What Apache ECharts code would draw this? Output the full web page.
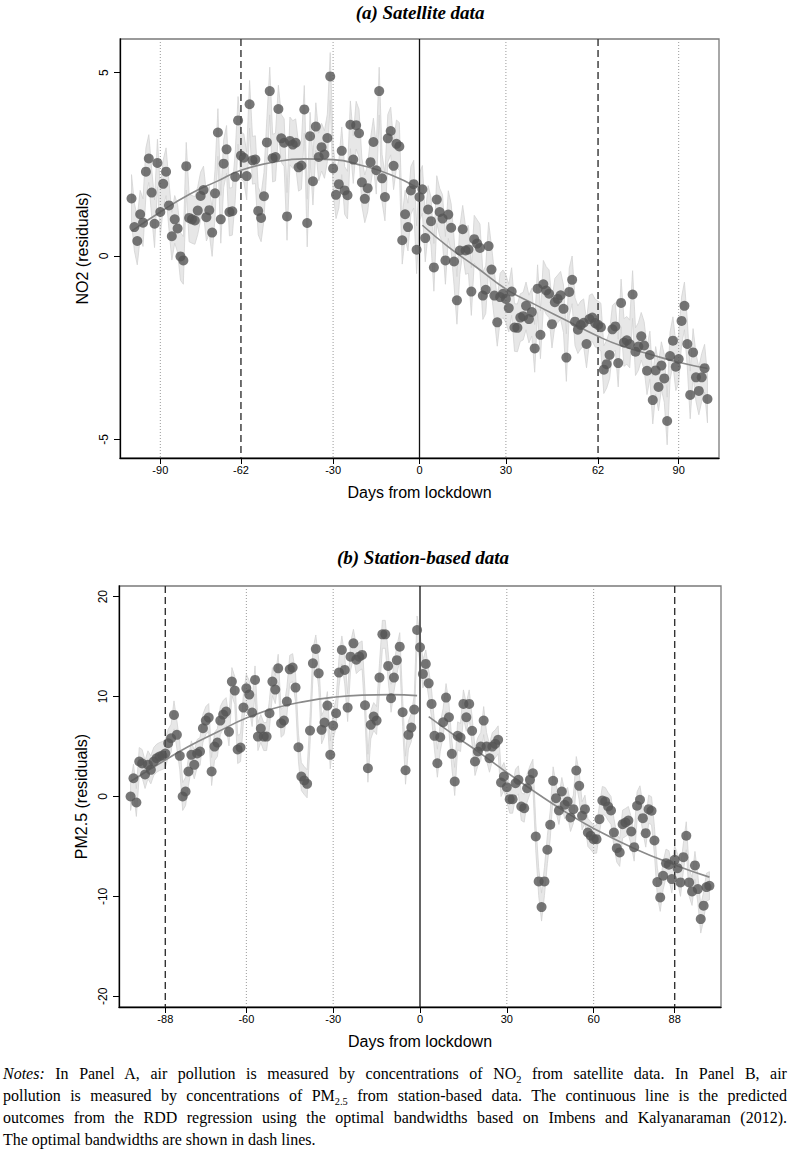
<!DOCTYPE html>
<html>
<head>
<meta charset="utf-8">
<script src="https://cdn.jsdelivr.net/npm/echarts@6/dist/echarts.min.js"></script>
<style>
html,body{margin:0;padding:0;background:#fff;width:790px;height:1162px;overflow:hidden;}
#chart{position:absolute;left:0;top:0;width:790px;height:1162px;}
#notes{position:absolute;left:3px;top:1063px;width:834px;transform:scaleX(0.94);transform-origin:0 0;font-family:"Liberation Serif","Times New Roman",serif;font-size:17px;line-height:22px;color:#000;}
#notes .j{text-align:justify;text-align-last:justify;}
#notes sub{font-size:11px;line-height:0;}
</style>
</head>
<body>
<div id="chart"></div>
<div id="notes">
<div class="j"><i>Notes:</i> In Panel A, air pollution is measured by concentrations of NO<sub>2</sub> from satellite data. In Panel B, air</div>
<div class="j">pollution is measured by concentrations of PM<sub>2.5</sub> from station-based data. The continuous line is the predicted</div>
<div class="j">outcomes from the RDD regression using the optimal bandwidths based on Imbens and Kalyanaraman (2012).</div>
<div>The optimal bandwidths are shown in dash lines.</div>
</div>
<script>
// ---------- DATA ----------
const dayStart = -100; // first day from lockdown (one observation per day, -100 .. 100)

// Panel A: NO2 residuals (satellite), days -100..100
const no2 = [
 1.57, 0.79, 0.41, 1.14, 0.91, 2.30, 2.66, 1.73, 0.88, 2.54,
 1.20, 1.97, 2.30, 1.38, 0.54, 1.00, 0.75, -0.01, -0.12, 2.45,
 1.04, 1.00, 0.97, 1.24, 1.64, 1.80, 1.06, 1.25, 0.64, 1.71,
 3.37, 1.00, 2.52, 2.91, 1.20, 1.22, 2.16, 3.70, 2.74, 2.68,
 2.18, 4.14, 2.61, 2.63, 1.23, 1.04, 1.63, 3.10, 4.50, 2.67,
 2.70, 4.01, 3.21, 3.09, 1.08, 3.14, 3.04, 3.09, 2.42, 2.47,
 4.00, 0.90, 3.27, 2.04, 3.53, 2.70, 2.97, 2.77, 3.22, 4.90,
 2.39, 1.67, 1.96, 2.87, 1.79, 1.66, 3.58, 2.63, 3.57, 3.35,
 2.01, 1.56, 1.85, 2.56, 3.11, 2.34, 4.50, 2.12, 1.61, 3.21,
 3.41, 2.46, 3.06, 2.99, 0.43, 1.14, 0.79, 1.79, 1.96, 0.17,
 1.61,
 1.82, 0.49, 1.27, 0.95, -0.31, 1.54, 1.20, 1.02, -0.12, 1.13,
 0.77, -0.15, -1.21, 0.15, 0.73, 0.15, 0.18, -0.97, 0.46, 0.34,
 0.22, -1.08, -0.92, 0.27, -0.37, -1.08, -1.81, -1.12, -1.03, -1.17,
 -1.42, -0.97, -1.95, -1.96, -1.68, -1.64, -1.36, -1.72, -1.53, -2.52,
 -0.89, -2.15, -0.77, -0.94, -1.03, -1.86, -1.26, -1.17, -1.07, -1.44,
 -2.77, -0.98, -0.65, -1.79, -2.01, -1.88, -1.82, -2.40, -1.72, -1.68,
 -1.83, -1.88, -1.94, -3.10, -2.95, -2.70, -2.00, -1.92, -2.92, -1.28,
 -2.36, -2.30, -2.40, -1.05, -2.61, -2.47, -2.19, -2.44, -3.13, -2.70,
 -3.93, -3.12, -3.57, -2.99, -3.34, -4.50, -2.73, -2.31, -3.02, -2.81,
 -1.77, -1.36, -2.40, -3.79, -2.63, -3.31, -3.68, -3.31, -3.06, -3.90
];
// Panel B: PM2.5 residuals (stations), days -100..100
const pm25 = [
 0.00, 1.83, -0.60, 3.50, 3.30, 2.20, 3.17, 2.67, 3.50, 3.83,
 4.00, 4.10, 4.30, 5.33, 5.83, 8.17, 6.17, 4.07, 0.00, 0.50,
 2.50, 4.17, 3.17, 4.30, 4.50, 6.83, 7.60, 7.90, 2.50, 5.00,
 5.40, 7.60, 8.20, 8.50, 6.47, 11.50, 10.60, 4.70, 4.90, 8.90,
 10.83, 10.20, 8.40, 11.67, 6.00, 6.80, 6.00, 6.00, 8.33, 11.50,
 10.70, 12.83, 7.33, 7.60, 9.50, 12.73, 12.90, 10.90, 4.93, 2.00,
 1.60, 1.27, 6.60, 13.33, 14.77, 12.33, 6.67, 7.40, 9.10, 4.17,
 7.10, 8.33, 12.40, 14.67, 12.67, 8.90, 14.00, 15.33, 13.70, 14.00,
 14.17, 9.13, 2.83, 7.17, 8.00, 7.60, 11.90, 16.23, 16.23, 13.07,
 9.83, 11.90, 13.65, 15.00, 8.43, 2.63, 6.17, 6.90, 8.70, 16.67,
 14.93,
 12.27, 13.27, 11.33, 9.27, 6.07, 3.33, 5.93, 7.43, 9.90, 7.93,
 4.27, 1.50, 6.07, 5.90, 9.27, 7.93, 9.27, 6.57, 3.50, 4.50,
 5.00, 7.60, 5.00, 3.83, 5.00, 5.27, 5.67, 1.40, 2.00, 0.93,
 -0.27, -0.27, 1.33, 1.67, -1.00, -1.17, 0.83, 1.67, 2.33, -4.00,
 -8.50, -11.07, -8.50, -5.33, -2.83, 1.57, -0.17, -1.40, 0.50, -0.83,
 -0.50, -2.10, -1.27, 2.60, 1.07, -1.93, -1.27, -3.60, -3.93, -4.27,
 -4.27, -2.27, -0.40, -0.50, -1.00, -1.40, -3.60, -5.17, -5.60, -2.77,
 -2.60, -2.40, -3.50, -5.07, -0.93, -0.33, -2.17, -3.67, -1.27, -1.43,
 -4.40, -8.57, -10.10, -7.93, -6.67, -6.83, -8.27, -6.33, -7.17, -8.60,
 -6.07, -3.93, -8.60, -9.50, -6.90, -9.27, -12.27, -10.93, -9.07, -8.93
];
// half-width of the shaded confidence band around each daily point
const ciHalfA = 0.65;
const ciHalfB = 1.4;

// RDD fitted lines
const fitA_leftX  = [-100, -90, -80, -70, -62, -50, -40, -30, -20, -10, -1];
const fitA_leftY  = [0.68, 1.20, 1.68, 2.05, 2.34, 2.57, 2.65, 2.63, 2.47, 2.22, 1.88];
const fitA_rightX = [1, 10, 20, 30, 40, 50, 62, 70, 80, 90, 100];
const fitA_rightY = [0.84, 0.25, -0.32, -0.90, -1.32, -1.72, -2.19, -2.45, -2.68, -2.90, -3.07];
const fitB_leftX  = [-100, -90, -80, -70, -60, -50, -40, -30, -20, -10, -1];
const fitB_leftY  = [1.5, 3.3, 5.0, 6.45, 7.85, 8.85, 9.5, 9.93, 10.15, 10.2, 10.1];
const fitB_rightX = [3, 13, 21, 30, 40, 50, 60, 74, 88, 100];
const fitB_rightY = [8.0, 5.9, 4.3, 2.4, 0.4, -1.5, -3.2, -5.2, -6.85, -8.07];

// ticks and reference lines
const xTicksA = [-90, -62, -30, 0, 30, 62, 90];
const xTicksB = [-88, -60, -30, 0, 30, 60, 88];
const yTicksA = [-5, 0, 5];
const yTicksB = [-20, -10, 0, 10, 20];
const lockdownLine = [0];
const bandwidthA = [-62, 62];
const dottedA = [-90, -30, 30, 90];
const bandwidthB = [-88, 88];
const dottedB = [-60, -30, 30, 60];

const titleA = '(a) Satellite data';
const titleB = '(b) Station-based data';
const yNameA = 'NO2 (residuals)';
const yNameB = 'PM2.5 (residuals)';
const xName = 'Days from lockdown';

// ---------- CHART ----------
const SANS = '"Liberation Sans", Arial, Helvetica, sans-serif';
const SERIF = '"Liberation Serif", "Times New Roman", serif';
const chart = echarts.init(document.getElementById('chart'), null, {renderer: 'svg'});

function pairs(vals) { return vals.map((v, i) => [dayStart + i, v]); }
function zip(xs, ys) { return xs.map((x, i) => [x, ys[i]]); }

function bandSeries(vals, half, idx) {
  return {
    type: 'custom', xAxisIndex: idx, yAxisIndex: idx, silent: true, z: 1,
    data: [[0, 0]],
    renderItem: function (params, api) {
      const up = [], lo = [];
      vals.forEach((v, i) => {
        const d = dayStart + i;
        up.push(api.coord([d, v + half]));
        lo.push(api.coord([d, v - half]));
      });
      return {
        type: 'polygon',
        shape: {points: up.concat(lo.reverse())},
        style: {fill: '#e7e7e7', stroke: '#d3d3d3', lineWidth: 0.8}
      };
    }
  };
}
function vlineSeries(xs, idx, style) {
  return {
    type: 'custom', xAxisIndex: idx, yAxisIndex: idx, silent: true, z: 2,
    data: xs.map(x => [x, 0]),
    renderItem: function (params, api) {
      const cs = params.coordSys;
      const x = api.coord([api.value(0), 0])[0];
      return {type: 'line', shape: {x1: x, y1: cs.y, x2: x, y2: cs.y + cs.height}, style: style};
    }
  };
}
const solidStyle = {stroke: '#111', lineWidth: 1.3};
const dashStyle = {stroke: '#333', lineWidth: 1.4, lineDash: [7, 4]};
const dotStyle = {stroke: '#9a9a9a', lineWidth: 1, lineDash: [1, 2]};

function fitSeries(data, idx) {
  return {type: 'line', xAxisIndex: idx, yAxisIndex: idx, data: data, smooth: true, showSymbol: false,
    silent: true, z: 3, lineStyle: {color: '#8a8a8a', width: 1.6}};
}
function scatterSeries(data, idx) {
  return {type: 'scatter', xAxisIndex: idx, yAxisIndex: idx, data: data, symbolSize: 10, z: 4,
    itemStyle: {color: '#555555'}};
}
function xAxisCfg(idx, ticks) {
  return {
    gridIndex: idx, type: 'value', min: -104, max: 104,
    axisLine: {onZero: false, lineStyle: {color: '#000', width: 1.3}},
    axisTick: {show: true, customValues: ticks, length: 6, lineStyle: {color: '#000', width: 1}},
    axisLabel: {customValues: ticks, fontSize: 11, color: '#000', margin: 6, fontFamily: SANS},
    splitLine: {show: false},
    name: xName, nameLocation: 'middle', nameGap: 26,
    nameTextStyle: {fontSize: 16, color: '#000', fontFamily: SANS}
  };
}
function yAxisCfg(idx, ticks, min, max, name, gap) {
  return {
    gridIndex: idx, type: 'value', min: min, max: max,
    axisLine: {onZero: false, lineStyle: {color: '#000', width: 1.3}},
    axisTick: {show: true, customValues: ticks, length: 6, lineStyle: {color: '#000', width: 1}},
    axisLabel: {customValues: ticks, fontSize: 12, color: '#000', margin: 10, rotate: 90, fontFamily: SANS},
    splitLine: {show: false},
    name: name, nameLocation: 'middle', nameRotate: 90, nameGap: gap,
    nameTextStyle: {fontSize: 16, color: '#000', fontFamily: SANS}
  };
}

const option = {
  backgroundColor: '#fff',
  animation: false,
  grid: [
    {left: 120, top: 39, width: 599, height: 419, show: true, borderColor: '#7a7a7a', borderWidth: 1.3, backgroundColor: 'transparent'},
    {left: 119, top: 586, width: 602, height: 421, show: true, borderColor: '#7a7a7a', borderWidth: 1.3, backgroundColor: 'transparent'}
  ],
  xAxis: [xAxisCfg(0, xTicksA), xAxisCfg(1, xTicksB)],
  yAxis: [yAxisCfg(0, yTicksA, -5.51, 5.92, yNameA, 22), yAxisCfg(1, yTicksB, -21.07, 21.07, yNameB, 20)],
  graphic: [
    {type: 'text', x: 420, y: 12, style: {text: titleA, fill: '#000', font: 'italic bold 19px ' + SERIF, textAlign: 'center', textVerticalAlign: 'middle'}},
    {type: 'text', x: 423, y: 557, style: {text: titleB, fill: '#000', font: 'italic bold 19px ' + SERIF, textAlign: 'center', textVerticalAlign: 'middle'}}
  ],
  series: [
    bandSeries(no2, ciHalfA, 0),
    vlineSeries(dottedA, 0, dotStyle),
    vlineSeries(bandwidthA, 0, dashStyle),
    vlineSeries(lockdownLine, 0, solidStyle),
    fitSeries(zip(fitA_leftX, fitA_leftY), 0),
    fitSeries(zip(fitA_rightX, fitA_rightY), 0),
    scatterSeries(pairs(no2), 0),

    bandSeries(pm25, ciHalfB, 1),
    vlineSeries(dottedB, 1, dotStyle),
    vlineSeries(bandwidthB, 1, dashStyle),
    vlineSeries(lockdownLine, 1, solidStyle),
    fitSeries(zip(fitB_leftX, fitB_leftY), 1),
    fitSeries(zip(fitB_rightX, fitB_rightY), 1),
    scatterSeries(pairs(pm25), 1)
  ]
};
chart.setOption(option);
</script>
</body>
</html>
